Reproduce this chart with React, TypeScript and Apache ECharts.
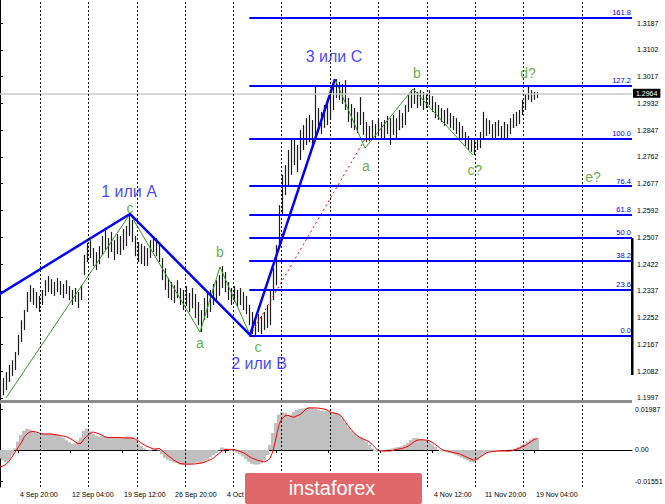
import React, { useEffect, useRef } from "react";
import * as echarts from "echarts";

const highs = [
  1.2054, 1.2060, 1.2079, 1.2102, 1.2117, 1.2143, 1.2197, 1.2244, 1.2276, 1.2333,
  1.2355, 1.2346, 1.2333, 1.2321, 1.2340, 1.2371, 1.2384, 1.2374, 1.2365, 1.2378,
  1.2368, 1.2359, 1.2371, 1.2352, 1.2340, 1.2346, 1.2333, 1.2355, 1.2451, 1.2489,
  1.2498, 1.2473, 1.2460, 1.2479, 1.2511, 1.2530, 1.2505, 1.2524, 1.2498, 1.2517,
  1.2511, 1.2533, 1.2543, 1.2581, 1.2562, 1.2511, 1.2492, 1.2486, 1.2479, 1.2473,
  1.2498, 1.2511, 1.2505, 1.2492, 1.2441, 1.2409, 1.2378, 1.2365, 1.2355, 1.2371,
  1.2346, 1.2340, 1.2352, 1.2330, 1.2346, 1.2327, 1.2302, 1.2276, 1.2314, 1.2333,
  1.2340, 1.2359, 1.2371, 1.2387, 1.2416, 1.2397, 1.2365, 1.2346, 1.2352, 1.2340,
  1.2346, 1.2333, 1.2321, 1.2292, 1.2270, 1.2251, 1.2263, 1.2257, 1.2270, 1.2292,
  1.2340, 1.2409, 1.2482, 1.2609, 1.2705, 1.2736, 1.2784, 1.2816, 1.2822, 1.2800,
  1.2847, 1.2863, 1.2885, 1.2895, 1.2879, 1.2984, 1.2917, 1.2905, 1.2927, 1.2943,
  1.2958, 1.2990, 1.3009, 1.3000, 1.2993, 1.3006, 1.2949, 1.2930, 1.2917, 1.2905,
  1.2952, 1.2905, 1.2873, 1.2860, 1.2879, 1.2866, 1.2885, 1.2873, 1.2879, 1.2892,
  1.2885, 1.2895, 1.2885, 1.2911, 1.2901, 1.2927, 1.2958, 1.2974, 1.2981, 1.2968,
  1.2974, 1.2968, 1.2962, 1.2974, 1.2955, 1.2936, 1.2927, 1.2917, 1.2911, 1.2917,
  1.2901, 1.2892, 1.2885, 1.2873, 1.2860, 1.2841, 1.2828, 1.2822, 1.2816, 1.2822,
  1.2841, 1.2905, 1.2885, 1.2879, 1.2866, 1.2873, 1.2879, 1.2860, 1.2873, 1.2866,
  1.2885, 1.2898, 1.2905, 1.2911, 1.2943, 1.2962, 1.2987, 1.2974, 1.2968, 1.2968,
];

const lows = [
  1.1997, 1.2006, 1.2022, 1.2048, 1.2067, 1.2086, 1.2133, 1.2175, 1.2213, 1.2270,
  1.2302, 1.2292, 1.2282, 1.2270, 1.2292, 1.2321, 1.2333, 1.2327, 1.2321, 1.2333,
  1.2324, 1.2314, 1.2327, 1.2308, 1.2292, 1.2302, 1.2282, 1.2308, 1.2387, 1.2428,
  1.2441, 1.2416, 1.2403, 1.2422, 1.2451, 1.2467, 1.2441, 1.2460, 1.2435, 1.2454,
  1.2451, 1.2467, 1.2479, 1.2511, 1.2492, 1.2447, 1.2428, 1.2422, 1.2416, 1.2416,
  1.2441, 1.2460, 1.2447, 1.2428, 1.2371, 1.2340, 1.2314, 1.2308, 1.2298, 1.2314,
  1.2292, 1.2276, 1.2289, 1.2270, 1.2282, 1.2251, 1.2228, 1.2206, 1.2244, 1.2251,
  1.2270, 1.2292, 1.2308, 1.2321, 1.2346, 1.2333, 1.2308, 1.2292, 1.2302, 1.2286,
  1.2292, 1.2276, 1.2263, 1.2228, 1.2200, 1.2194, 1.2206, 1.2200, 1.2213, 1.2219,
  1.2228, 1.2308, 1.2355, 1.2482, 1.2578, 1.2641, 1.2673, 1.2705, 1.2736, 1.2714,
  1.2752, 1.2784, 1.2800, 1.2809, 1.2790, 1.2816, 1.2847, 1.2835, 1.2854, 1.2863,
  1.2879, 1.2911, 1.2949, 1.2943, 1.2930, 1.2911, 1.2873, 1.2854, 1.2847, 1.2838,
  1.2863, 1.2832, 1.2809, 1.2812, 1.2822, 1.2816, 1.2828, 1.2816, 1.2822, 1.2835,
  1.2800, 1.2832, 1.2822, 1.2847, 1.2854, 1.2863, 1.2905, 1.2917, 1.2930, 1.2917,
  1.2924, 1.2911, 1.2917, 1.2927, 1.2905, 1.2885, 1.2879, 1.2873, 1.2860, 1.2866,
  1.2854, 1.2847, 1.2835, 1.2822, 1.2816, 1.2797, 1.2784, 1.2778, 1.2768, 1.2784,
  1.2790, 1.2822, 1.2828, 1.2835, 1.2822, 1.2816, 1.2828, 1.2816, 1.2822, 1.2816,
  1.2835, 1.2854, 1.2860, 1.2866, 1.2895, 1.2911, 1.2943, 1.2936, 1.2943, 1.2949,
];

const macdHist = [
  -0.0041, -0.0050, -0.0058, -0.0050, -0.0025, 0.0008, 0.0041, 0.0074, 0.0094, 0.0104,
  0.0099, 0.0091, 0.0083, 0.0078, 0.0078, 0.0081, 0.0083, 0.0081, 0.0078, 0.0074,
  0.0066, 0.0058, 0.0048, 0.0038, 0.0031, 0.0031, 0.0041, 0.0061, 0.0094, 0.0104,
  0.0091, 0.0078, 0.0071, 0.0066, 0.0068, 0.0066, 0.0064, 0.0061, 0.0064, 0.0064,
  0.0061, 0.0063, 0.0064, 0.0066, 0.0064, 0.0050, 0.0033, 0.0021, 0.0008, 0.0000,
  -0.0002, 0.0002, 0.0005, -0.0002, -0.0021, -0.0038, -0.0048, -0.0054, -0.0061, -0.0064,
  -0.0071, -0.0074, -0.0074, -0.0071, -0.0068, -0.0063, -0.0061, -0.0064, -0.0058, -0.0048,
  -0.0035, -0.0025, -0.0015, -0.0002, 0.0012, 0.0008, 0.0002, -0.0005, -0.0008, -0.0012,
  -0.0021, -0.0031, -0.0045, -0.0058, -0.0068, -0.0071, -0.0071, -0.0066, -0.0051, -0.0025,
  0.0025, 0.0083, 0.0132, 0.0173, 0.0186, 0.0182, 0.0170, 0.0173, 0.0186, 0.0196,
  0.0200, 0.0203, 0.0206, 0.0210, 0.0206, 0.0203, 0.0198, 0.0193, 0.0190, 0.0190,
  0.0186, 0.0183, 0.0180, 0.0173, 0.0153, 0.0132, 0.0111, 0.0094, 0.0081, 0.0071,
  0.0064, 0.0054, 0.0041, 0.0025, 0.0008, -0.0005, -0.0008, -0.0005, -0.0002, 0.0002,
  0.0005, 0.0008, 0.0012, 0.0015, 0.0018, 0.0025, 0.0035, 0.0048, 0.0058, 0.0058,
  0.0054, 0.0051, 0.0045, 0.0041, 0.0028, 0.0015, 0.0002, -0.0005, -0.0008, -0.0012,
  -0.0015, -0.0018, -0.0025, -0.0031, -0.0038, -0.0045, -0.0051, -0.0058, -0.0061, -0.0051,
  -0.0035, -0.0021, -0.0012, -0.0008, -0.0005, -0.0005, -0.0003, -0.0002, -0.0002, 0.0000,
  0.0002, 0.0005, 0.0008, 0.0015, 0.0025, 0.0031, 0.0041, 0.0051, 0.0058, 0.0058,
];

const macdSignal = [
  -0.0083, -0.0078, -0.0071, -0.0054, -0.0035, -0.0012, 0.0012, 0.0033, 0.0061, 0.0079,
  0.0088, 0.0091, 0.0088, 0.0083, 0.0079, 0.0078, 0.0078, 0.0078, 0.0076, 0.0074,
  0.0071, 0.0068, 0.0066, 0.0059, 0.0051, 0.0041, 0.0031, 0.0033, 0.0054, 0.0068,
  0.0081, 0.0088, 0.0084, 0.0079, 0.0073, 0.0064, 0.0061, 0.0061, 0.0061, 0.0061,
  0.0061, 0.0059, 0.0059, 0.0059, 0.0058, 0.0054, 0.0046, 0.0035, 0.0025, 0.0018,
  0.0012, 0.0005, 0.0005, 0.0008, -0.0002, -0.0015, -0.0028, -0.0038, -0.0050, -0.0058,
  -0.0066, -0.0068, -0.0069, -0.0069, -0.0069, -0.0068, -0.0066, -0.0064, -0.0061, -0.0054,
  -0.0048, -0.0041, -0.0028, -0.0017, -0.0005, 0.0002, 0.0003, 0.0003, 0.0003, -0.0002,
  -0.0007, -0.0012, -0.0021, -0.0031, -0.0040, -0.0045, -0.0051, -0.0054, -0.0058, -0.0053,
  -0.0041, -0.0005, 0.0058, 0.0124, 0.0153, 0.0167, 0.0170, 0.0163, 0.0160, 0.0167,
  0.0173, 0.0186, 0.0200, 0.0206, 0.0206, 0.0206, 0.0205, 0.0203, 0.0200, 0.0196,
  0.0186, 0.0182, 0.0178, 0.0175, 0.0160, 0.0140, 0.0120, 0.0101, 0.0084, 0.0071,
  0.0061, 0.0054, 0.0048, 0.0041, 0.0028, 0.0012, -0.0002, -0.0005, -0.0005, -0.0005,
  -0.0005, -0.0002, 0.0002, 0.0005, 0.0008, 0.0012, 0.0018, 0.0028, 0.0040, 0.0048,
  0.0050, 0.0050, 0.0048, 0.0046, 0.0038, 0.0028, 0.0017, 0.0005, -0.0002, -0.0005,
  -0.0008, -0.0012, -0.0015, -0.0018, -0.0025, -0.0031, -0.0038, -0.0045, -0.0050, -0.0045,
  -0.0035, -0.0025, -0.0015, -0.0010, -0.0008, -0.0007, -0.0005, -0.0005, -0.0005, -0.0005,
  -0.0005, -0.0002, 0.0003, 0.0008, 0.0015, 0.0021, 0.0031, 0.0041, 0.0051, 0.0056,
];

const priceTicks = [
  1.1997, 1.2082, 1.2167, 1.2252, 1.2337, 1.2422, 1.2507, 1.2592,
  1.2677, 1.2762, 1.2847, 1.2932, 1.3017, 1.3102, 1.3187,
];
const macdTicks = [-0.01551, 0, 0.01987];
// labels that are visible (the ones under the logo are hidden in the reference)
const timeLabels = [
  "4 Sep 20:00", "12 Sep 04:00", "19 Sep 12:00", "26 Sep 20:00", "4 Oct 04:00",
  "4 Nov 12:00", "11 Nov 20:00", "19 Nov 04:00",
];
const timeLabelBars = [6, 23.33, 40.67, 57.67, 75, 144, 161, 178];
const timeTickBars = [6, 23.33, 40.67, 57.67, 75, 92, 109.33, 126.67, 144, 161, 178];
const gridLineBars = [13.33, 29.33, 45.67, 61.67, 77.67, 93.67, 110, 126, 142.33, 158.33, 174.33, 194];

const fiboNames = ["0.0", "23.6", "38.2", "50.0", "61.8", "76.4", "100.0", "127.2", "161.8"];
const fiboPrices = [1.2194, 1.2342, 1.2433, 1.2506, 1.2579, 1.2669, 1.2819, 1.2988, 1.3203];
const fiboStartBar = 83.1;
const lastPrice = 1.2964;

const waveMain = [[0, 1.2327], [43.33, 1.2581], [83.33, 1.2197], [111.67, 1.3009]];
const waveSubA = [[2, 1.1997], [43.33, 1.2581], [66.67, 1.2206], [73.33, 1.2413], [83.33, 1.2197]];
const waveSubB = [[111.67, 1.3009], [121.67, 1.279], [137.67, 1.2978], [157.67, 1.2768]];
const fiboAnchor = [[83.33, 1.2194], [121.67, 1.2819]];

const majorLabels: [string, number, number][] = [
  ["1 или A", 43, 1.2651],
  ["2 или B", 86.33, 1.2107],
  ["3 или C", 111.33, 1.3082],
];
const minorLabels: [string, number, number][] = [
  ["c", 43.33, 1.26],
  ["a", 66.67, 1.2171],
  ["b", 73.33, 1.246],
  ["c", 86, 1.216],
  ["a", 122, 1.2733],
  ["b", 139, 1.3028],
  ["c?", 158.33, 1.272],
  ["d?", 176, 1.3028],
  ["e?", 197.67, 1.2698],
];

const X_MAX = 632 / 3;
const FONT = '"Liberation Sans", Arial, sans-serif';
const AXIS_SIZE = 7;

export default function App() {
  const ref = useRef<HTMLDivElement>(null);
  useEffect(() => {
    if (!ref.current) return;
    const chart = echarts.init(ref.current, null, { renderer: "svg" });
    const option: any = {
      animation: false,
      backgroundColor: "#fff",
      textStyle: { fontFamily: FONT },
      grid: [
        { left: 0, top: 0, width: 632, height: 400, outerBoundsMode: "none", containLabel: false },
        { left: 0, top: 404, width: 632, height: 83, outerBoundsMode: "none", containLabel: false },
      ],
      xAxis: [
        { type: "value", gridIndex: 0, min: 0, max: X_MAX, show: false },
        {
          type: "value",
          gridIndex: 1,
          min: 0,
          max: X_MAX,
          axisLine: { show: true, lineStyle: { color: "#000", width: 1 } },
          axisTick: { show: true, customValues: timeTickBars, length: 3, lineStyle: { color: "#000" } },
          axisLabel: {
            show: true,
            customValues: timeLabelBars,
            align: "left",
            margin: 4,
            padding: [0, 0, 0, 2],
            fontSize: AXIS_SIZE,
            color: "#000",
            fontFamily: FONT,
            formatter: (v: number) => {
              let best = 0;
              for (let k = 0; k < timeLabelBars.length; k++) {
                if (Math.abs(timeLabelBars[k] - v) < Math.abs(timeLabelBars[best] - v)) best = k;
              }
              return timeLabels[best];
            },
          },
          splitLine: { show: false },
        },
      ],
      yAxis: [
        {
          type: "value",
          gridIndex: 0,
          position: "right",
          min: 1.19906,
          max: 1.326,
          axisLine: { show: true, lineStyle: { color: "#000", width: 1 } },
          axisTick: { show: true, customValues: priceTicks, length: 3, lineStyle: { color: "#000" } },
          axisLabel: {
            show: true,
            customValues: priceTicks,
            margin: 5,
            fontSize: AXIS_SIZE,
            color: "#000",
            fontFamily: FONT,
            formatter: (v: number) => v.toFixed(4),
          },
          splitLine: { show: false },
        },
        {
          type: "value",
          gridIndex: 1,
          position: "right",
          min: -0.0181,
          max: 0.0225,
          axisLine: { show: true, lineStyle: { color: "#000", width: 1 } },
          axisTick: { show: true, customValues: macdTicks, length: 3, lineStyle: { color: "#000" } },
          axisLabel: {
            show: true,
            customValues: macdTicks,
            margin: 3,
            fontSize: AXIS_SIZE,
            color: "#000",
            fontFamily: FONT,
            formatter: (v: number) => (Math.abs(v) < 1e-9 ? "0.00" : v.toFixed(5)),
          },
          splitLine: { show: false },
        },
      ],
      series: [
        {
          type: "line",
          name: "levels",
          xAxisIndex: 0,
          yAxisIndex: 0,
          data: [],
          z: 1,
          markLine: {
            silent: true,
            symbol: ["none", "none"],
            emphasis: { disabled: true },
            data: [
              [
                {
                  name: lastPrice.toFixed(4),
                  coord: [0, lastPrice],
                  lineStyle: { color: "#c8c8c8", width: 1.5, type: "solid" },
                  label: {
                    show: true,
                    position: "end",
                    distance: 1,
                    formatter: "{b}",
                    backgroundColor: "#000",
                    color: "#fff",
                    padding: [1, 3, 1, 3],
                    fontSize: AXIS_SIZE,
                    fontFamily: FONT,
                  },
                },
                { coord: [X_MAX - 0.01, lastPrice] },
              ],
              ...gridLineBars.map((v) => [
                {
                  coord: [v, 1.19907],
                  lineStyle: { color: "#111", type: [2, 2], width: 1 },
                  label: { show: false },
                },
                { coord: [v, 1.32599] },
              ]),
              ...fiboPrices.map((p, k) => [
                {
                  name: fiboNames[k],
                  coord: [fiboStartBar, p],
                  lineStyle: { color: "#0000ff", width: 2, type: "solid" },
                  label: {
                    show: true,
                    position: "insideEndTop",
                    formatter: "{b}",
                    color: "#0000ff",
                    fontSize: 7.5,
                    fontFamily: FONT,
                    distance: 1,
                  },
                },
                { coord: [X_MAX - 0.01, p] },
              ]),
            ],
          },
        },
        {
          type: "custom",
          name: "bars",
          xAxisIndex: 0,
          yAxisIndex: 0,
          clip: true,
          z: 2,
          data: highs.map((h, i) => [i, h, lows[i]]),
          encode: { x: 0, y: [1, 2] },
          renderItem: (params: any, api: any) => {
            const x = api.value(0);
            const p1 = api.coord([x, api.value(1)]);
            const p2 = api.coord([x, api.value(2)]);
            const px = Math.round(p1[0]) + 0.5;
            return {
              type: "line",
              shape: { x1: px, y1: p1[1], x2: px, y2: p2[1] },
              style: { stroke: "#1a1a1a", lineWidth: 1.2 },
            };
          },
        },
        {
          type: "line",
          name: "waveMain",
          xAxisIndex: 0,
          yAxisIndex: 0,
          data: waveMain,
          symbol: "none",
          z: 4,
          lineStyle: { color: "#0000ff", width: 2.5 },
        },
        {
          type: "line",
          name: "waveSubA",
          xAxisIndex: 0,
          yAxisIndex: 0,
          data: waveSubA,
          symbol: "none",
          z: 3,
          lineStyle: { color: "#2e9a1e", width: 1 },
        },
        {
          type: "line",
          name: "waveSubB",
          xAxisIndex: 0,
          yAxisIndex: 0,
          data: waveSubB,
          symbol: "none",
          z: 3,
          lineStyle: { color: "#2e9a1e", width: 1 },
        },
        {
          type: "line",
          name: "fiboAnchor",
          xAxisIndex: 0,
          yAxisIndex: 0,
          data: fiboAnchor,
          symbol: "none",
          z: 3,
          lineStyle: { color: "#ff0000", width: 1, type: [2, 3] },
        },
        {
          type: "scatter",
          name: "major",
          xAxisIndex: 0,
          yAxisIndex: 0,
          symbolSize: 1,
          itemStyle: { color: "rgba(0,0,0,0)" },
          z: 6,
          data: majorLabels.map(([t, x, y]) => ({ name: t, value: [x, y] })),
          label: {
            show: true,
            position: "inside",
            formatter: "{b}",
            color: "#1414ff",
            fontSize: 16,
            lineHeight: 16,
            fontFamily: FONT,
          },
        },
        {
          type: "scatter",
          name: "minor",
          xAxisIndex: 0,
          yAxisIndex: 0,
          symbolSize: 1,
          itemStyle: { color: "rgba(0,0,0,0)" },
          z: 6,
          data: minorLabels.map(([t, x, y]) => ({ name: t, value: [x, y] })),
          label: {
            show: true,
            position: "inside",
            formatter: "{b}",
            color: "#3c9a14",
            fontSize: 14,
            lineHeight: 14,
            fontFamily: FONT,
          },
        },
        {
          type: "bar",
          name: "macd",
          xAxisIndex: 1,
          yAxisIndex: 1,
          barWidth: 4,
          data: macdHist.map((v, i) => [i, v]),
          itemStyle: { color: "#c0c0c0" },
          z: 2,
          markLine: {
            silent: true,
            symbol: ["none", "none"],
            emphasis: { disabled: true },
            label: { show: false },
            lineStyle: { color: "#111", type: [2, 2], width: 1 },
            data: gridLineBars.map((v) => ({ xAxis: v })),
          },
        },
        {
          type: "line",
          name: "signal",
          xAxisIndex: 1,
          yAxisIndex: 1,
          data: macdSignal.map((v, i) => [i, v]),
          symbol: "none",
          z: 3,
          lineStyle: { color: "#ff0000", width: 1 },
        },
      ],
      graphic: [
        { type: "rect", z: 50, shape: { x: 0, y: 400, width: 632, height: 3 }, style: { fill: "#8c8c8c" } },
        { type: "rect", z: 50, shape: { x: 631, y: 238, width: 2.5, height: 137 }, style: { fill: "#000" } },
        {
          type: "rect",
          z: 100,
          shape: { x: 245, y: 473, width: 177, height: 31, r: 2 },
          style: { fill: "#e0686b" },
        },
        {
          type: "text",
          z: 101,
          x: 332,
          y: 488,
          style: {
            text: "instaforex",
            fill: "#ffffff",
            fontSize: 20,
            fontFamily: FONT,
            align: "center",
            verticalAlign: "middle",
            textAlign: "center",
            textVerticalAlign: "middle",
          },
        },
      ],
    };
    chart.setOption(option);
    return () => chart.dispose();
  }, []);
  return (
    <div
      ref={ref}
      style={{ position: "fixed", left: 0, top: 0, width: 665, height: 504, background: "#fff" }}
    />
  );
}
